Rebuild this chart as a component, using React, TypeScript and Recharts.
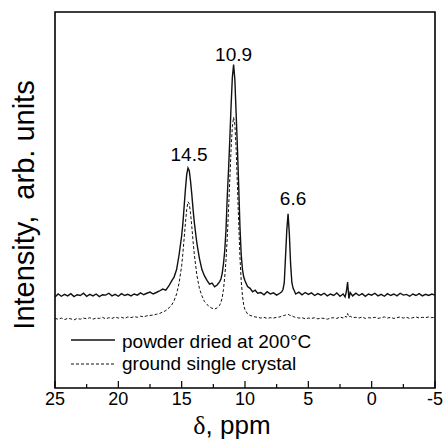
import { ComposedChart, Line, XAxis, YAxis, ReferenceArea, ReferenceDot } from 'recharts'

// chemical shift, ppm (descending)
const shifts = [
  25, 24.75, 24.5, 24.25, 24, 23.75, 23.5, 23.25, 23, 22.75, 22.5, 22.25, 22, 21.75, 21.5, 21.25, 21,
  20.75, 20.5, 20.25, 20, 19.75, 19.5, 19.25, 19, 18.75, 18.5, 18.25, 18, 17.75, 17.5, 17.25, 17,
  16.75, 16.5, 16.25, 16, 15.8, 15.6, 15.4, 15.2,
  15.0, 14.9, 14.8, 14.7, 14.6, 14.5, 14.4, 14.3, 14.2, 14.1, 14.0,
  13.8, 13.6, 13.4, 13.2, 13.0, 12.8, 12.6, 12.4, 12.2, 12.0,
  11.9, 11.8, 11.7, 11.6, 11.5, 11.4, 11.3, 11.2, 11.1, 11.0, 10.9, 10.8, 10.7, 10.6, 10.5, 10.4, 10.3, 10.2, 10.1, 10.0,
  9.8, 9.6, 9.4, 9.2, 9.0,
  8.75, 8.5, 8.25, 8, 7.75, 7.5, 7.25, 7.1, 7.0, 6.9, 6.8, 6.7, 6.6, 6.5, 6.4, 6.3, 6.2, 6.1, 6.0, 5.75, 5.5, 5.25, 5,
  4.75, 4.5, 4.25, 4, 3.75, 3.5, 3.25, 3, 2.75, 2.5, 2.25,
  2.1, 2.0, 1.9, 1.8, 1.7, 1.5,
  1.25, 1, 0.75, 0.5, 0.25, 0, -0.25, -0.5, -0.75, -1, -1.25, -1.5, -1.75, -2, -2.25, -2.5, -2.75, -3,
  -3.25, -3.5, -3.75, -4, -4.25, -4.5, -4.75, -5,
]

// powder dried at 200°C
const powder = [
  24.2, 25.0, 24.4, 24.9, 24.5, 25.1, 24.3, 24.8, 24.6, 25.2, 24.4, 24.9, 24.5, 25.0, 24.3, 24.8, 24.7,
  25.2, 24.5, 24.9, 24.4, 25.1, 24.6, 24.9, 24.5, 25.0, 24.7, 25.3, 24.8, 25.2, 25.5, 25.0, 25.4,
  25.8, 26.3, 26.0, 27.2, 28.4, 29.5, 31.5, 35.5,
  40.5, 44, 48.5, 53, 56.8, 58.5, 57.8, 55, 51.5, 47.5, 44,
  38.5, 34.5, 31.5, 29.8, 28.6, 27.6, 27.9, 26.9, 27.4, 28.3,
  29.0, 30.5, 33.0, 36.5, 42, 51, 58, 66, 75, 82.5, 86, 82, 73, 64, 54, 43, 35.5, 31.5, 29.5, 28.5,
  27.0, 26.5, 25.6, 26.0, 25.2,
  25.4, 24.8, 25.6, 25.0, 25.3, 24.7, 25.2, 25.6, 26.2, 28, 35, 42, 46.3, 41, 33, 28, 26.5, 25.8, 25.0, 25.5, 24.8, 25.4, 24.9,
  25.3, 24.6, 25.1, 24.7, 25.2, 24.5, 25.0, 24.6, 25.3, 24.4, 25.0,
  24.2, 25.6, 28.2, 23.8, 25.4, 24.5,
  25.2, 24.6, 25.1, 24.4, 25.0, 24.7, 25.2, 24.5, 24.9, 24.4, 25.1, 24.6, 25.0, 24.5, 25.2, 24.7, 24.9, 24.4,
  25.0, 24.6, 25.1, 24.5, 24.9, 24.6, 25.0, 24.7,
]

// ground single crystal
const crystal = [
  18.5, 18.3, 18.6, 18.2, 18.5, 18.4, 18.1, 18.5, 18.3, 18.6, 18.4, 18.7, 18.3, 18.6, 18.5, 18.8, 18.4,
  18.7, 18.5, 18.9, 18.6, 18.8, 18.5, 18.9, 18.7, 19.0, 18.8, 19.1, 18.9, 19.2, 19.3, 19.4, 19.6,
  19.8, 20.2, 20.6, 21.3, 22.0, 23.2, 25.0, 28.0,
  32.5, 36, 40, 44, 47.5, 49.5, 49, 46.5, 43, 39, 35.5,
  30, 26.5, 24.5, 23, 22.2, 21.6, 21.2, 21.0, 21.3, 22.0,
  22.8, 24.0, 26.2, 29.5, 34, 40, 47.5, 55.5, 63.5, 69.5, 72, 70, 63.5, 54, 44, 35, 28.5, 24.5, 22.0, 20.8,
  19.7, 19.3, 19.1, 18.9, 18.8,
  18.6, 18.8, 18.5, 18.7, 18.6, 18.8, 18.9, 19.1, 19.2, 19.3, 19.4, 19.5, 19.6, 19.4, 19.3, 19.2, 19.0, 18.9, 18.8, 18.6, 18.7, 18.4, 18.6,
  18.5, 18.7, 18.4, 18.6, 18.5, 18.3, 18.6, 18.7, 18.5, 18.9, 18.6,
  19.1, 18.8, 19.8, 18.9, 19.1, 18.7,
  18.8, 18.6, 18.9, 18.5, 18.7, 18.6, 18.8, 18.5, 18.7, 18.9, 18.6, 18.8, 18.5, 18.7, 18.9, 18.6, 18.8, 18.5,
  18.7, 18.9, 18.6, 18.8, 18.7, 18.9, 18.7, 18.8,
]

const peakShifts = [14.5, 10.9, 6.6]
const peakHeights = [58.5, 86, 46.3]
const peakLabels = ['14.5', '10.9', '6.6']

const xTicks = [25, 22.5, 20, 17.5, 15, 12.5, 10, 7.5, 5, 2.5, 0, -2.5, -5]

const data = shifts.map((shift, i) => ({ shift, powder: powder[i], crystal: crystal[i] }))

const SANS = '"Liberation Sans", Arial, Helvetica, sans-serif'

// label offset above each peak (px)
const labelGap = [7, 4, 9]
const labelDx = [1, 0, 5]

interface TickProps {
  x: number
  y: number
  payload: { value: number }
}

const ShiftTick = ({ x, y, payload }: TickProps) => {
  const major = payload.value % 5 === 0
  return (
    <g>
      <line x1={x} y1={y} x2={x} y2={y - (major ? 7 : 4)} stroke="#000" strokeWidth={1.2} />
      {major && (
        <text x={x} y={y + 17} textAnchor="middle" fontFamily={SANS} fontSize={18} fill="#000">
          {payload.value}
        </text>
      )}
    </g>
  )
}

export default function App() {
  return (
    <div style={{ position: 'absolute', left: 0, top: 0, width: 447, height: 447, background: '#fff' }}>
      <ComposedChart width={447} height={447} data={data} margin={{ top: 12, right: 12, left: 0, bottom: 0 }}>
        <XAxis
          dataKey="shift"
          type="number"
          domain={[-5, 25]}
          reversed
          ticks={xTicks}
          interval={0}
          tickSize={0}
          tickMargin={0}
          tickLine={false}
          axisLine={false}
          height={59}
          tick={(props: any) => <ShiftTick {...props} />}
          label={{
            content: () => (
              <text x={232} y={434} textAnchor="middle" fontFamily={SANS} fontSize={26} fill="#000">
                <tspan fontFamily='"Liberation Serif", "Times New Roman", serif'>δ</tspan>, ppm
              </text>
            ),
          }}
        />
        <YAxis
          type="number"
          domain={[0, 100]}
          width={55}
          tick={false}
          tickLine={false}
          axisLine={false}
          label={{
            content: () => (
              <text
                x={34}
                y={205}
                textAnchor="middle"
                transform="rotate(-90, 34, 205)"
                fontFamily={SANS}
                fontSize={29}
                fill="#000"
              >
                Intensity,{'\u00A0'} arb. units
              </text>
            ),
          }}
        />
        <ReferenceArea x1={25} x2={-5} y1={0} y2={100} fill="none" stroke="#000" strokeWidth={1.6} />
        <Line
          type="linear"
          dataKey="crystal"
          stroke="#111"
          strokeWidth={1}
          strokeDasharray="3 2"
          dot={false}
          isAnimationActive={false}
        />
        <Line
          type="linear"
          dataKey="powder"
          stroke="#111"
          strokeWidth={1.4}
          dot={false}
          isAnimationActive={false}
        />
        {peakShifts.map((s, i) => (
          <ReferenceDot
            key={peakLabels[i]}
            x={s}
            y={peakHeights[i]}
            r={0}
            stroke="none"
            label={{
              value: peakLabels[i],
              position: 'top',
              offset: labelGap[i],
              dx: labelDx[i],
              fontFamily: SANS,
              fontSize: 19,
              fill: '#000',
            }}
          />
        ))}
      </ComposedChart>

      {/* legend - bottom left inside the frame */}
      <svg width={300} height={60} style={{ position: 'absolute', left: 60, top: 325 }}>
        <line x1={11} y1={15} x2={55} y2={15} stroke="#111" strokeWidth={1.4} />
        <text x={62} y={23} fontFamily={SANS} fontSize={19} fill="#000">powder dried at 200°C</text>
        <line x1={11} y1={39} x2={55} y2={39} stroke="#111" strokeWidth={1} strokeDasharray="3 2" />
        <text x={62} y={45} fontFamily={SANS} fontSize={19} fill="#000">ground single crystal</text>
      </svg>
    </div>
  )
}
